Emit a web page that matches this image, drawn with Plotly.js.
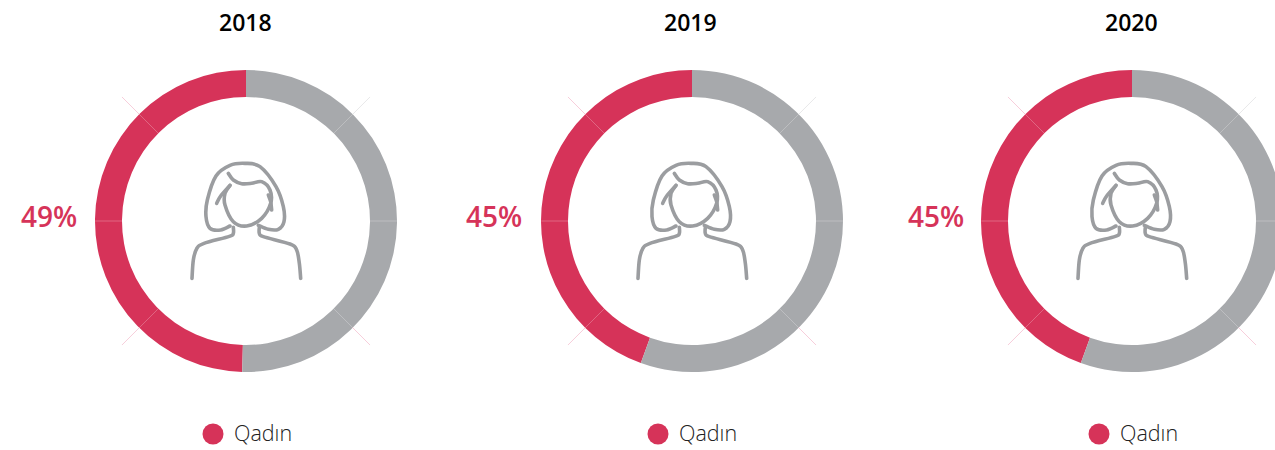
<!DOCTYPE html>
<html>
<head>
<meta charset="utf-8">
<script src="https://cdn.plot.ly/plotly-3.0.1.min.js"></script>
<style>html,body{margin:0;padding:0;background:#fff;overflow:hidden}#c{width:1300px;height:450px}</style>
</head>
<body>
<div id="c"></div>
<script>
const years = ['2018', '2019', '2020'];
const womenShare = [49.6, 44.5, 44.5];
const otherShare = [50.4, 55.5, 55.5];
const shareLabels = ['49%', '45%', '45%'];
const legendLabel = 'Qadın';

const RED = '#d63359', GREY = '#a7a9ac', ICON = '#9b9da0';
const W = 1300, H = 450;
const centersX = [246, 692, 1132], centerY = 221, R = 151, r = 124;
const titleX = [245, 690, 1131], labelX = [49, 494, 936], legendX = [213, 658, 1099];

// icon outline, in 3x units relative to the ring centre
const iconStrokes = [
  [[150,228],[122,240],[90,235],[78,200],[82,150],[108,78],[150,46],[195,40],[240,50],[288,110],[310,170],[312,215],[295,238],[265,238],[235,226]],
  [[145,70],[160,90],[185,101],[215,100],[245,95],[270,120],[272,160],[245,205],[200,228],[160,215],[135,165],[135,130],[150,106]],
  [[150,106],[122,138],[110,160]],
  [[265,135],[272,155],[275,180]],
  [[160,232],[160,250],[148,259],[72,280],[50,296],[40,330],[36,385]],
  [[238,232],[238,250],[250,260],[330,282],[350,300],[358,340],[362,385]]
];
function smooth(pts, cx) {
  const P = pts.map(p => [cx + p[0] / 3 - 66, centerY + p[1] / 3 - 71]);
  let d = 'M' + P[0][0] + ',' + P[0][1];
  for (let i = 0; i < P.length - 1; i++) {
    const a = P[Math.max(i - 1, 0)], b = P[i], c = P[i + 1], e = P[Math.min(i + 2, P.length - 1)];
    d += ' C' + (b[0] + (c[0] - a[0]) / 6) + ',' + (b[1] + (c[1] - a[1]) / 6) + ' ' +
         (c[0] - (e[0] - b[0]) / 6) + ',' + (c[1] - (e[1] - b[1]) / 6) + ' ' + c[0] + ',' + c[1];
  }
  return d;
}
function ray(cx, deg, r0, r1, color) {
  const t = deg * Math.PI / 180;
  return {type: 'line', xref: 'x', yref: 'y', layer: 'above',
    x0: cx + r0 * Math.cos(t), y0: centerY + r0 * Math.sin(t),
    x1: cx + r1 * Math.cos(t), y1: centerY + r1 * Math.sin(t),
    line: {color: color, width: 1}};
}

const traces = [], shapes = [], annotations = [];
const text = (x, y, t, size, color, weight, xanchor) => ({xref: 'x', yref: 'y', x, y, text: t, showarrow: false,
  xanchor: xanchor || 'center', yanchor: 'middle',
  font: {family: '"Open Sans", sans-serif', size, color, weight: weight || 400}});

years.forEach((y, i) => {
  const cx = centersX[i];
  traces.push({type: 'pie', values: [womenShare[i], otherShare[i]], labels: [legendLabel, 'Digər'],
    sort: false, direction: 'clockwise', rotation: 360 - womenShare[i] * 3.6, hole: r / R, textinfo: 'none',
    hoverinfo: 'none', showlegend: false, marker: {colors: [RED, GREY], line: {width: 0}},
    domain: {x: [(cx - R) / W, (cx + R) / W], y: [1 - (centerY + R) / H, 1 - (centerY - R) / H]}});
  traces.push({type: 'scatter', mode: 'markers', x: [legendX[i]], y: [434], hoverinfo: 'none', showlegend: false,
    marker: {size: 21, color: RED}, xaxis: 'x', yaxis: 'y'});
  [45, 135, 225, 315].forEach(a => {
    shapes.push(ray(cx, a, r, R, 'rgba(255,255,255,0.25)'));
    shapes.push(ray(cx, a, R, 175, a === 315 ? 'rgba(167,169,172,0.25)' : 'rgba(224,60,110,0.25)'));
  });
  [0, 180].forEach(a => shapes.push(ray(cx, a, r, R, 'rgba(255,255,255,0.25)')));
  iconStrokes.forEach(s => shapes.push({type: 'path', xref: 'x', yref: 'y', layer: 'above',
    path: smooth(s, cx), line: {color: ICON, width: 3.6}}));
  annotations.push(text(titleX[i], 22, y, 23, '#000', 600));
  annotations.push(text(labelX[i], 216, shareLabels[i], 28, RED, 600));
  annotations.push(text(legendX[i] + 19, 432, legendLabel, 21.5, '#222', 300, 'left'));
});

Plotly.newPlot('c', traces, {
  width: W, height: H, margin: {l: 0, r: 0, t: 0, b: 0}, autosize: false,
  paper_bgcolor: '#fff', plot_bgcolor: 'rgba(0,0,0,0)', showlegend: false,
  xaxis: {range: [0, W], visible: false, fixedrange: true},
  yaxis: {range: [H, 0], visible: false, fixedrange: true},
  shapes, annotations
}, {displayModeBar: false, responsive: false}).then(() => {
  document.querySelectorAll('.shapelayer path').forEach(p => {
    p.style.strokeLinecap = 'round'; p.style.strokeLinejoin = 'round';
  });
});
</script>
</body>
</html>
